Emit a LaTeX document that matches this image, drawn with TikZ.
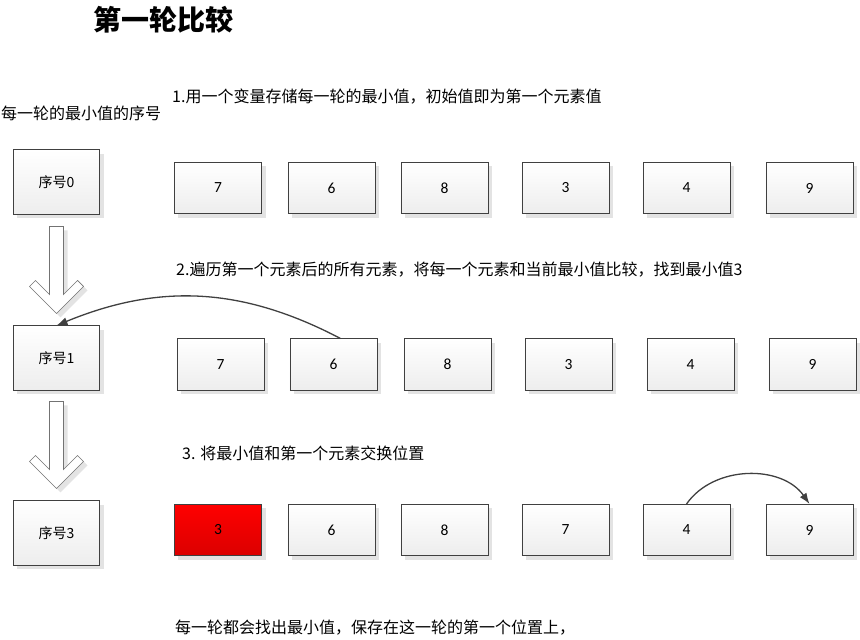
\documentclass[tikz,border=0pt]{standalone}
\usepackage{fontspec}
\setmainfont{Carlito}
\newfontfamily\cjk{Noto Sans CJK SC}
\usepackage{tikz}
\usetikzlibrary{arrows.meta,shadows,positioning}

\begin{document}
\begin{tikzpicture}[x=1pt, y=1pt]
\tikzstyle{cell}=[draw=black!75, line width=0.8pt, shape=rectangle, minimum width=87.2pt, minimum height=51.2pt, top color=white, bottom color=black!7, drop shadow={shadow xshift=4pt, shadow yshift=-4pt, fill=black!11, opacity=1}, font=\fontsize{15.5}{18}\selectfont]
\tikzstyle{seq}=[cell, minimum width=86.2pt, minimum height=64.2pt, font=\cjk\fontsize{14}{16}\selectfont]
\tikzstyle{smallest}=[cell, top color=red, bottom color=red!86!black]
\tikzstyle{note}=[anchor=west, inner sep=0pt, font=\cjk\fontsize{16}{19}\selectfont]
\tikzstyle{hollow}=[draw=black!55, fill=white, line width=0.7pt, line join=miter, drop shadow={shadow xshift=4pt, shadow yshift=-4pt, fill=black!11, opacity=1}]
\tikzstyle{pointer}=[draw=black!75, line width=1.3pt, -{Latex[length=11pt,width=8pt]}]
\useasboundingbox (0,0) rectangle (860,640);

\node[font=\cjk\bfseries\fontsize{28}{32}\selectfont] (title) at (163,620) {第一轮比较};

% texts
\node[note] (t0) at (1,527) {每一轮的最小值的序号};
\node[note] (t1) at (172,543) {1.用一个变量存储每一轮的最小值，初始值即为第一个元素值};
\node[note] (t2) at (176,370) {2.遍历第一个元素后的所有元素，将每一个元素和当前最小值比较，找到最小值3};
\node[note] (t3) at (182,187) {3. 将最小值和第一个元素交换位置};
\node[note] (t4) at (175,12) {每一轮都会找出最小值，保存在这一轮的第一个位置上，};

% index of the minimum
\node[seq] (s0) at (56.5,458) {序号0};
\node[seq] (s1) [below=111pt of s0] {序号1};
\node[seq] (s3) [below=110pt of s1] {序号3};

% row 1
\node[cell] (a1) at (218,452) {7};
\node[cell] (a2) [right=25.5pt of a1] {6};
\node[cell] (a3) [right=25pt of a2] {8};
\node[cell] (a4) [right=33pt of a3] {3};
\node[cell] (a5) [right=33pt of a4] {4};
\node[cell] (a6) [right=35pt of a5] {9};

% row 2
\node[cell] (b1) at (220.5,275.5) {7};
\node[cell] (b2) [right=25pt of b1] {6};
\node[cell] (b3) [right=26pt of b2] {8};
\node[cell] (b4) [right=33pt of b3] {3};
\node[cell] (b5) [right=34pt of b4] {4};
\node[cell] (b6) [right=34pt of b5] {9};

% row 3
\node[smallest] (c1) at (218,110) {3};
\node[cell] (c2) [right=25.5pt of c1] {6};
\node[cell] (c3) [right=25pt of c2] {8};
\node[cell] (c4) [right=33pt of c3] {7};
\node[cell] (c5) [right=33pt of c4] {4};
\node[cell] (c6) [right=35pt of c5] {9};

\draw[hollow, shift={(s1.north)}] (-7,99) -- (-7,31) -- (-21,45) -- (-27,39) -- (0,12) -- (27,39) -- (21,45) -- (7,31) -- (7,99) -- cycle;
\draw[hollow, shift={(s3.north)}] (-7,99) -- (-7,31) -- (-21,45) -- (-27,39) -- (0,12) -- (27,39) -- (21,45) -- (7,31) -- (7,99) -- cycle;

\draw[pointer] ([xshift=7pt]b2.north) to[bend right=25] (s1.north);
\draw[pointer] (c5.north) to[bend left=55] (c6.north);

\end{tikzpicture}
\end{document}
